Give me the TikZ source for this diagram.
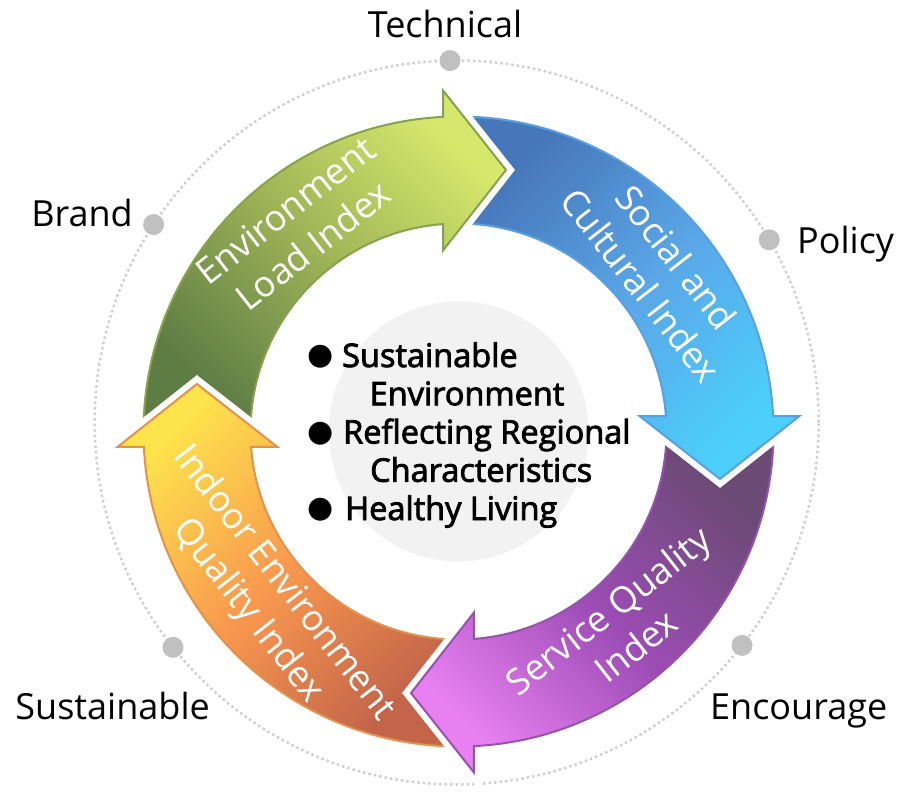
\documentclass[tikz,border=0pt]{standalone}
\usepackage{fontspec}
\setmainfont{Open Sans}
\newfontfamily\boldish[FakeBold=2.5]{Open Sans}
\newfontfamily\dotfont{DejaVu Sans}

\definecolor{greentail}{HTML}{5E7D45}
\definecolor{greenmid}{HTML}{9DB356}
\definecolor{greenhead}{HTML}{D6E86C}
\definecolor{greenedge}{HTML}{86A24A}
\definecolor{bluetail}{HTML}{4677BB}
\definecolor{bluemid}{HTML}{5AA6E6}
\definecolor{bluehead}{HTML}{4CCFFB}
\definecolor{blueedge}{HTML}{5A9FE0}
\definecolor{purpletail}{HTML}{6B4A75}
\definecolor{purplemid}{HTML}{9C4CB4}
\definecolor{purplehead}{HTML}{E880F2}
\definecolor{purpleedge}{HTML}{9553AE}
\definecolor{orangetail}{HTML}{C4654A}
\definecolor{orangemid}{HTML}{F9994E}
\definecolor{orangehead}{HTML}{FDE34C}
\definecolor{orangeedge}{HTML}{E3924E}
\definecolor{discgrey}{HTML}{F2F2F2}
\definecolor{dotgrey}{HTML}{C0C0C0}
\definecolor{ringgrey}{HTML}{CFCFCF}

% one quarter arrow of the ring, turned by #1 degrees
\newcommand{\ringarrow}[1]{%
  ({#1+179.27}:315pt) arc[start angle={#1+179.27}, end angle={#1+92.82}, radius=315pt]
  -- ({#1+92.60}:341.35pt) -- ({#1+79.70}:265.8pt) -- ({#1+94.89}:181.66pt)
  -- ({#1+94.27}:208pt) arc[start angle={#1+94.27}, end angle={#1+178.90}, radius=208pt]
  -- cycle}

\begin{document}
\begin{tikzpicture}[x=1pt, y=1pt,
	ring/.style={line width=2pt, preaction={draw=white, line width=14pt}},
	greenarrow/.style={ring, draw=greenedge, top color=greenhead, bottom color=greentail, middle color=greenmid, shading angle=-45},
	bluearrow/.style={ring, draw=blueedge, top color=bluetail, bottom color=bluehead, middle color=bluemid, shading angle=45},
	purplearrow/.style={ring, draw=purpleedge, top color=purpletail, bottom color=purplehead, middle color=purplemid, shading angle=-45},
	orangearrow/.style={ring, draw=orangeedge, top color=orangehead, bottom color=orangetail, middle color=orangemid, shading angle=45},
	arrowtext/.style={text=white, align=center, inner sep=0pt, font=\fontsize{36}{45}\selectfont},
	outertext/.style={inner sep=0pt, font=\fontsize{36}{43}\selectfont},
	midtext/.style={anchor=base west, inner sep=0pt, font=\boldish\fontsize{32.5}{38}\selectfont},
	bulletmark/.style={inner sep=0pt, font=\dotfont\fontsize{30}{30}\selectfont},
	greydot/.style={circle, fill=dotgrey, minimum size=21pt, inner sep=0pt}]
	\useasboundingbox (-458.5,-360.5) rectangle (445.5,431.5);

	\coordinate (ringc) at (-1.8,9);
	\draw[ringgrey, line width=2.5pt, dash pattern=on 2.5pt off 3pt] (ringc) circle[radius=362pt]; %dotted ring

	\node[greydot] (techdot) at (-8.5,370.9) {};
	\node[greydot] (branddot) at (-304.9,206.9) {};
	\node[greydot] (policydot) at (310.7,191.7) {};
	\node[greydot] (sustdot) at (-285.5,-215.8) {};
	\node[greydot] (encdot) at (283.5,-213.9) {};

	\fill[discgrey] (0,0) circle[radius=130pt]; %centre disc

	\path[bluearrow] \ringarrow{-90}; %social
	\path[greenarrow] \ringarrow{0}; %environment load
	\path[orangearrow] \ringarrow{90}; %indoor
	\path[purplearrow] \ringarrow{180}; %service
	\begin{scope} %social head again, over the service tail
		\clip (0,-400) rectangle (460,17);
		\path[bluearrow] \ringarrow{-90};
	\end{scope}

	\node[arrowtext, rotate=38] (envload) at (-159.5,203.5) {Environment\\Load Index};
	\node[arrowtext, rotate=-52] (social) at (200.5,160.5) {Social and\\Cultural Index};
	\node[arrowtext, rotate=38] (service) at (163.5,-196.5) {Service Quality\\Index};
	\node[arrowtext, rotate=-52] (indoor) at (-193,-166) {Indoor Environment\\Quality Index};

	\node[bulletmark] (bul1) at (-137.5,74.5) {●};
	\node[bulletmark] (bul2) at (-137.5,-2) {●};
	\node[bulletmark] (bul3) at (-137.5,-78.5) {●};
	\node[midtext] (sust) at (-116.5,64.5) {Sustainable};
	\node[midtext] (env) at (-89,26.25) {Environment};
	\node[midtext] (refl) at (-115.5,-12) {Reflecting Regional};
	\node[midtext] (chara) at (-88.5,-50.25) {Characteristics};
	\node[midtext] (health) at (-113.5,-88.5) {Healthy Living};

	\node[outertext, anchor=base] (tech) at (-13.5,393.5) {Technical};
	\node[outertext, anchor=base east] (brand) at (-325.5,204.5) {Brand};
	\node[outertext, anchor=base west] (policy) at (338.5,177.5) {Policy};
	\node[outertext, anchor=base east] (sustain) at (-248.5,-287.5) {Sustainable};
	\node[outertext, anchor=base west] (enc) at (251.5,-287.5) {Encourage};
\end{tikzpicture}
\end{document}
